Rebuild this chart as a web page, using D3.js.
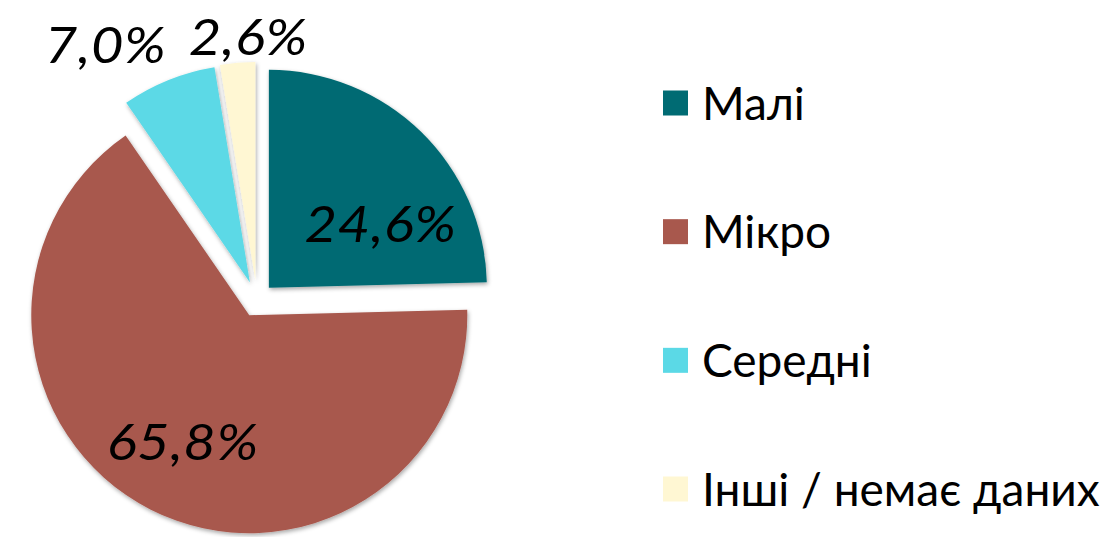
<!DOCTYPE html>
<html>
<head>
<meta charset="utf-8">
<script src="https://cdn.jsdelivr.net/npm/d3@7"></script>
<style>
  body { margin: 0; background: #fff; }
  svg { display: block; }
</style>
</head>
<body>
<script>
// chart data
var categories = ["Малі", "Мікро", "Середні", "Інші / немає даних"];
var values = [24.6, 65.8, 7.0, 2.6];
var labels = ["24,6%", "65,8%", "7,0%", "2,6%"];
var colors = ["#006b73", "#a8584d", "#5bd9e6", "#fff7d3"];

var width = 1111, height = 537;
var cx = 257, cy = 300, radius = 218;

var svg = d3.select("body").append("svg")
    .attr("width", width)
    .attr("height", height);

var defs = svg.append("defs");
var shadow = defs.append("filter").attr("id", "shadow")
    .attr("x", "-20%").attr("y", "-20%").attr("width", "140%").attr("height", "140%");
shadow.append("feDropShadow")
    .attr("dx", 1).attr("dy", 2).attr("stdDeviation", 2)
    .attr("flood-color", "#000").attr("flood-opacity", 0.35);

var pie = d3.pie().sort(null).value(function (d) { return d; });
var arcs = pie(values);
var arc = d3.arc().innerRadius(0).outerRadius(radius);

// explode distance per slice
var explode = [17, 17, 19, 20];
// label placement: radius factor and angle shift (degrees) from slice middle
var labelRadius = [0.59, 0.655, 1.276, 1.115];
var labelShift = [16, 0.8, -9.3, 3];

var pieG = svg.append("g").attr("transform", "translate(" + cx + "," + cy + ")");

var slices = pieG.selectAll("g.slice")
    .data(arcs)
    .enter().append("g")
    .attr("class", "slice")
    .attr("transform", function (d, i) {
        var p = d3.pointRadial((d.startAngle + d.endAngle) / 2, explode[i]);
        return "translate(" + p[0] + "," + p[1] + ")";
    });

slices.append("path")
    .attr("d", arc)
    .style("fill", function (d, i) { return colors[i]; })
    .attr("filter", "url(#shadow)");

// percentage labels, stretched a little to mimic the wide original font
slices.append("text")
    .attr("transform", function (d, i) {
        var a = (d.startAngle + d.endAngle) / 2 + labelShift[i] * Math.PI / 180;
        var p = d3.pointRadial(a, radius * labelRadius[i]);
        return "translate(" + p[0] + "," + p[1] + ") scale(1.1,1)";
    })
    .attr("text-anchor", "middle")
    .attr("dy", "0.36em")
    .style("font-family", "Lato, sans-serif")
    .style("font-style", "italic")
    .style("font-size", "51px")
    .style("letter-spacing", "0.5px")
    .style("fill", "#000")
    .text(function (d, i) { return labels[i]; });

// legend
var legend = svg.append("g").attr("transform", "translate(663,0)");
var legendY = d3.scalePoint().domain(categories).range([103, 489]);

var items = legend.selectAll("g.item")
    .data(categories)
    .enter().append("g")
    .attr("class", "item")
    .attr("transform", function (d) { return "translate(0," + legendY(d) + ")"; });

items.append("rect")
    .attr("x", 0).attr("y", -12.5)
    .attr("width", 25).attr("height", 25)
    .style("fill", function (d, i) { return colors[i]; });

items.append("text")
    .attr("x", 39)
    .attr("dy", "0.36em")
    .style("font-family", "Lato, sans-serif")
    .style("font-size", "46px")
    .style("fill", "#000")
    .text(function (d) { return d; });
</script>
</body>
</html>
